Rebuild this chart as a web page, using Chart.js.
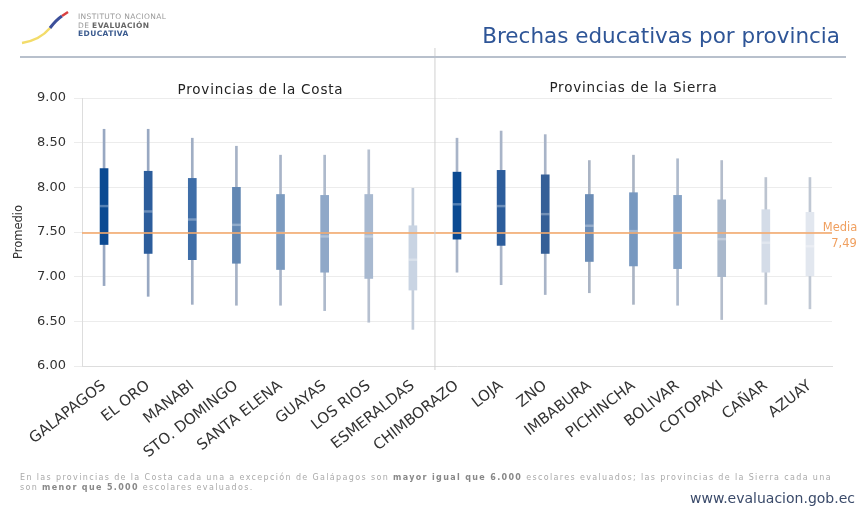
<!DOCTYPE html>
<html>
<head>
<meta charset="utf-8">
<script src="https://cdn.jsdelivr.net/npm/chart.js@4.4.1/dist/chart.umd.min.js"></script>
<style>
  body { margin: 0; background: #fff; font-family: "DejaVu Sans", Arial, sans-serif; }
  #wrap { position: relative; width: 864px; height: 511px; overflow: hidden; }
  #chart { position: absolute; left: 0; top: 0; }
  .txt { position: absolute; white-space: nowrap; }
</style>
</head>
<body>
<div id="wrap">
  <canvas id="chart" width="864" height="511"></canvas>
  <svg class="txt" style="left:18px;top:6px;" width="56" height="40">
    <path d="M4 37 Q22 34 32 22" stroke="#f3dc6a" stroke-width="2.5" fill="none"/>
    <path d="M32 22 Q38 14 44 10" stroke="#3c4f9a" stroke-width="3" fill="none"/>
    <path d="M44 10 L50 6" stroke="#d94040" stroke-width="2.5" fill="none"/>
  </svg>
  <div class="txt" style="left:78px;top:13px;font-size:7.5px;line-height:8.5px;color:#999;letter-spacing:0.4px;">INSTITUTO NACIONAL<br>DE <b style="color:#666">EVALUACIÓN</b><br><b style="color:#3b5b8f">EDUCATIVA</b></div>
  <div class="txt" style="right:24px;top:23px;font-size:21.5px;color:#2e5597;">Brechas educativas por provincia</div>
  <div class="txt" style="left:20px;top:56px;width:826px;height:2px;background:#b8c0cc;"></div>
  <div class="txt" style="left:20px;top:473px;font-size:8px;line-height:10px;color:#aaa;letter-spacing:1.35px;">En las provincias de la Costa cada una a excepción de Galápagos son <b style="color:#888">mayor igual que 6.000</b> escolares evaluados; las provincias de la Sierra cada una<br>son <b style="color:#888">menor que 5.000</b> escolares evaluados.</div>
  <div class="txt" style="right:9px;top:490px;font-size:14px;color:#3a4a6a;">www.evaluacion.gob.ec</div>
</div>
<script>
// provincias (Costa primero, luego Sierra)
var provincias = ['GALAPAGOS', 'EL ORO', 'MANABI', 'STO. DOMINGO', 'SANTA ELENA', 'GUAYAS', 'LOS RIOS', 'ESMERALDAS',
                  'CHIMBORAZO', 'LOJA', 'ZNO', 'IMBABURA', 'PICHINCHA', 'BOLIVAR', 'COTOPAXI', 'CAÑAR', 'AZUAY'];
var minimos  = [6.90, 6.78, 6.69, 6.68, 6.68, 6.62, 6.49, 6.41, 7.05, 6.91, 6.80, 6.82, 6.69, 6.68, 6.52, 6.69, 6.64];
var cuartil1 = [7.36, 7.26, 7.19, 7.15, 7.08, 7.05, 6.98, 6.85, 7.42, 7.35, 7.26, 7.17, 7.12, 7.09, 7.00, 7.05, 7.01];
var medianas = [7.79, 7.73, 7.64, 7.58, 7.49, 7.45, 7.45, 7.19, 7.81, 7.79, 7.70, 7.57, 7.51, 7.49, 7.42, 7.38, 7.34];
var cuartil3 = [8.21, 8.18, 8.10, 8.00, 7.92, 7.91, 7.92, 7.57, 8.17, 8.19, 8.14, 7.92, 7.94, 7.91, 7.86, 7.75, 7.72];
var maximos  = [8.65, 8.65, 8.55, 8.46, 8.36, 8.36, 8.42, 7.99, 8.55, 8.63, 8.59, 8.30, 8.36, 8.32, 8.30, 8.11, 8.11];
var media = 7.49;
var yTicks = [6.0, 6.5, 7.0, 7.5, 8.0, 8.5, 9.0];

var boxColors = ['#0b4a92', '#2c5d9c', '#3f6ea8', '#6287b3', '#7c9bc0', '#8fa8c8', '#a8b9d0', '#c9d4e3',
                 '#0b4a92', '#2c5d9c', '#355f97', '#6a8cb6', '#7798c0', '#86a3c6', '#a9b8cc', '#d4dce8', '#e2e7ef'];
var whiskerColors = ['#98a8c2', '#98a8c2', '#a0aec4', '#a6b2c6', '#a8b4c8', '#aebacc', '#b6c0d0', '#c2ccda',
                     '#a8b4c8', '#a8b4c8', '#a8b4c8', '#aab4c4', '#aab4c4', '#aebacc', '#b4bdcc', '#bcc4d0', '#c0c8d4'];

var fuente = '"DejaVu Sans", Arial';

function pares(a, b) { return a.map(function (v, i) { return [v, b[i]]; }); }

var overlay = {
    id: 'overlay',
    afterDatasetsDraw: function (chart) {
        var ctx = chart.ctx, x = chart.scales.x, y = chart.scales.y, area = chart.chartArea;
        ctx.save();
        // linea de la media
        var ym = y.getPixelForValue(media);
        ctx.strokeStyle = 'rgba(244,170,110,0.8)';
        ctx.lineWidth = 2;
        ctx.beginPath(); ctx.moveTo(area.left, ym); ctx.lineTo(area.right, ym); ctx.stroke();
        ctx.fillStyle = '#f0a060';
        ctx.font = '11.5px ' + fuente;
        ctx.textAlign = 'center';
        ctx.fillText('Media', area.right + 8, ym - 2);
        ctx.fillText('7,49', area.right + 12, ym + 14);
        // division Costa / Sierra
        var xd = (x.getPixelForValue(7) + x.getPixelForValue(8)) / 2;
        ctx.strokeStyle = '#d0d0d0';
        ctx.lineWidth = 1;
        ctx.beginPath(); ctx.moveTo(xd, 48); ctx.lineTo(xd, area.bottom + 4); ctx.stroke();
        // titulos de region
        ctx.fillStyle = '#222';
        ctx.font = '13.5px ' + fuente;
        ctx.letterSpacing = '0.8px';
        ctx.fillText('Provincias de la Costa', (area.left + xd) / 2 + 2, 94);
        ctx.fillText('Provincias de la Sierra', (xd + area.right) / 2, 92);
        ctx.restore();
    }
};

new Chart(document.getElementById('chart'), {
    type: 'bar',
    data: {
        labels: provincias,
        datasets: [{
            data: pares(minimos, maximos),
            backgroundColor: whiskerColors,
            barThickness: 2,
            grouped: false,
            order: 3
        }, {
            data: pares(cuartil1, cuartil3),
            backgroundColor: boxColors,
            barThickness: 8,
            grouped: false,
            order: 2
        }, {
            data: medianas.map(function (m) { return [m - 0.01, m + 0.01]; }),
            backgroundColor: 'rgba(255,255,255,0.3)',
            barThickness: 8,
            grouped: false,
            order: 1
        }]
    },
    options: {
        responsive: false,
        animation: false,
        layout: { padding: { top: 98, right: 32, bottom: 36, left: 8 } },
        plugins: { legend: { display: false }, tooltip: { enabled: false } },
        scales: {
            x: {
                grid: { display: false },
                border: { color: '#ddd' },
                ticks: { color: '#333', font: { size: 15, family: fuente }, maxRotation: 38, minRotation: 38, autoSkip: false },
                afterFit: function (s) { s.height = 109; }
            },
            y: {
                min: 6, max: 9,
                afterBuildTicks: function (s) { s.ticks = yTicks.map(function (v) { return { value: v }; }); },
                grid: { color: '#ececec' },
                border: { color: '#ddd' },
                ticks: { color: '#333', font: { size: 13, family: fuente }, padding: 8,
                         callback: function (v) { return v.toFixed(2); } },
                title: { display: true, text: 'Promedio', color: '#333', font: { size: 11.5, family: fuente } },
                afterFit: function (s) { s.width = 74; }
            }
        }
    },
    plugins: [overlay]
});
</script>
</body>
</html>
